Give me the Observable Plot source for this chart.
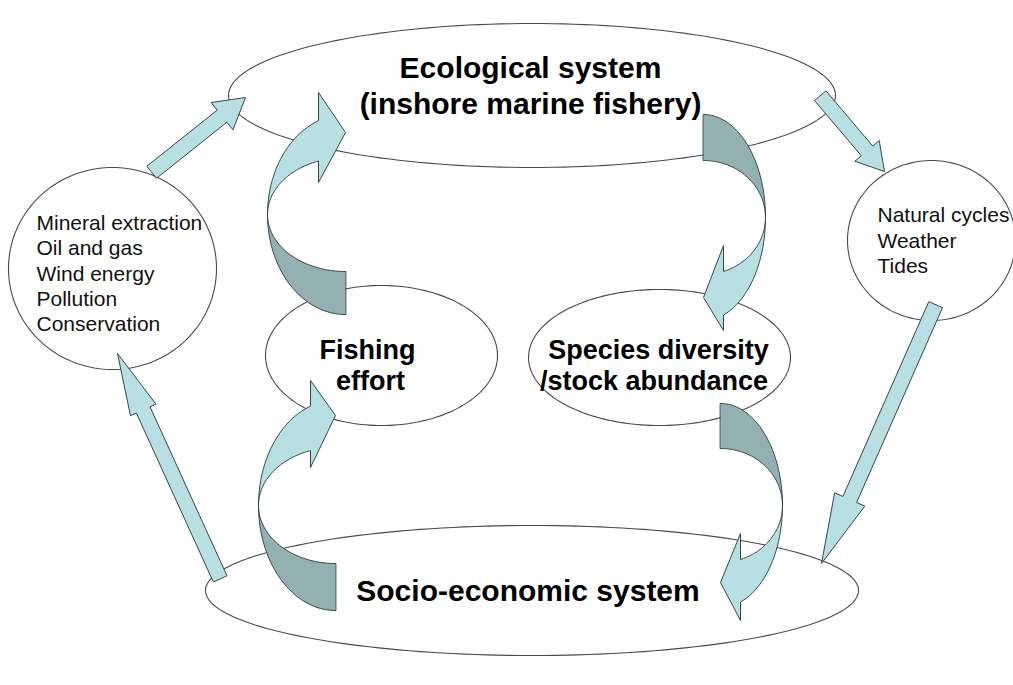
<!DOCTYPE html>
<html>
<head>
<meta charset="utf-8">
<script src="https://cdn.jsdelivr.net/npm/d3@7"></script>
<script src="https://cdn.jsdelivr.net/npm/@observablehq/plot@0.6"></script>
<style>
  html, body { margin: 0; padding: 0; background: #ffffff; }
  #chart svg { display: block; }
</style>
</head>
<body>
<div id="chart"></div>
<script>
// ---- Text content ----
const titleLines = ["Ecological system", "(inshore marine fishery)", "Socio-economic system"];
const fishingLines = ["Fishing", "effort"];
const speciesLines = ["Species diversity", "/stock abundance"];
const pressureLines = ["Mineral extraction", "Oil and gas", "Wind energy", "Pollution", "Conservation"];
const naturalLines = ["Natural cycles", "Weather", "Tides"];

// ---- Node shapes (ellipses) ----
const nodeIds = ["eco", "socio", "fishing", "species", "pressures", "natural"];
const nodeCx = [531.5, 531.5, 381, 659, 112, 931];
const nodeCy = [95, 590, 355, 357, 268, 240];
const nodeRx = [303.5, 326.5, 116, 131, 104, 84];
const nodeRy = [72, 65, 70, 68, 101, 80];

// ---- Straight block arrows ----
const straightIds = ["pressures→eco", "eco→natural", "natural→socio", "socio→pressures"];
const straightTail = [[151.5, 171.5], [820, 95.5], [935, 304.5], [219.5, 578]];
const straightTip = [[245, 97], [884, 171], [821, 563], [117, 353]];
const straightShaft = [15.5, 15, 15, 15];
const straightHeadW = [35, 32, 33, 28];
const straightHeadL = [30, 27, 70, 62];

// ---- Curved block arrows ----
const curvedIds = ["fishing→eco", "eco→species", "socio→fishing", "species→socio"];
const curvedCx = [345, 703, 335, 720];
const curvedCy = [214, 217, 505, 505];
const curvedRx = [78, 62, 77, 62];
const curvedRyOuter = [100, 103, 105, 102];
const curvedRyInner = [57, 57, 58, 57];
const curvedSx = [1, -1, 1, -1];
const curvedSy = [1, -1, 1, -1];
const curvedHeadDx = [-27, -20, -25, -20];
const curvedBarbOuter = [-122, -113, -125, -115];
const curvedBarbInner = [-32, -28, -38, -28];
const curvedTipY = [-82, -80, -90, -77];

const W = 1013, H = 685;
const LIGHT = "#b8dfe2", DARK = "#93b1b3", EDGE = "#34484a";

// ellipse outlines
const ellipsePts = nodeIds.flatMap((id, i) =>
  d3.range(0, 360, 2).map(a => ({
    id,
    x: nodeCx[i] + nodeRx[i] * Math.cos(a * Math.PI / 180),
    y: nodeCy[i] + nodeRy[i] * Math.sin(a * Math.PI / 180)
  }))
);

// straight arrows as polygons
const straightPts = straightIds.flatMap((id, i) => {
  const [tx, ty] = straightTail[i], [px, py] = straightTip[i];
  const L = Math.hypot(px - tx, py - ty);
  const ux = (px - tx) / L, uy = (py - ty) / L;
  const nx = -uy, ny = ux;
  const bx = px - ux * straightHeadL[i], by = py - uy * straightHeadL[i];
  const w = straightShaft[i] / 2, hw = straightHeadW[i] / 2;
  return [
    [tx + nx * w, ty + ny * w],
    [bx + nx * w, by + ny * w],
    [bx + nx * hw, by + ny * hw],
    [px, py],
    [bx - nx * hw, by - ny * hw],
    [bx - nx * w, by - ny * w],
    [tx - nx * w, ty - ny * w]
  ].map(([x, y]) => ({id, x, y}));
});

// curved arrows: dark back band + light front band with head
function arc(t0, t1, rx, ry, n = 48) {
  return d3.range(n + 1).map(k => {
    const t = t0 + (t1 - t0) * k / n;
    return [rx * Math.cos(t), ry * Math.sin(t)];
  });
}
const darkPts = [], lightPts = [];
curvedIds.forEach((id, i) => {
  const rx = curvedRx[i], ro = curvedRyOuter[i], ri = curvedRyInner[i];
  const map = ([u, v]) => ({id, x: curvedCx[i] + curvedSx[i] * u, y: curvedCy[i] + curvedSy[i] * v});
  const dark = [...arc(Math.PI / 2, Math.PI, rx, ro), ...arc(Math.PI, Math.PI / 2, rx, ri)];
  darkPts.push(...dark.map(map));
  const a = Math.acos(curvedHeadDx[i] / rx);
  const hd = curvedHeadDx[i];
  const light = [
    ...arc(-Math.PI, -a, rx, ro),
    [hd, curvedBarbOuter[i]],
    [0, curvedTipY[i]],
    [hd, curvedBarbInner[i]],
    ...arc(-a, -Math.PI, rx, ri)
  ];
  lightPts.push(...light.map(map));
});

// labels
const FONT = "'Liberation Sans', Arial, sans-serif";
const titleData = [
  {text: titleLines[0], x: 530, y: 67.5},
  {text: titleLines[1], x: 530, y: 103.5},
  {text: titleLines[2], x: 527.5, y: 590.5}
];
const midData = [
  {text: fishingLines[0], x: 367, y: 349.5},
  {text: fishingLines[1], x: 370, y: 380.5},
  {text: speciesLines[0], x: 658, y: 349.5},
  {text: speciesLines[1], x: 653.5, y: 380.5}
];
const pressureData = pressureLines.map((text, i) => ({text, x: 36, y: 223 + 25.2 * i}));
const naturalData = naturalLines.map((text, i) => ({text, x: 877, y: 215 + 25.5 * i}));

const chart = Plot.plot({
  width: W,
  height: H,
  margin: 0,
  style: {background: "#ffffff", overflow: "visible"},
  x: {domain: [0, W], range: [0, W], axis: null},
  y: {domain: [0, H], range: [0, H], axis: null},
  marks: [
    Plot.line(ellipsePts, {x: "x", y: "y", z: "id", curve: "linear-closed", stroke: "#4a4a4a", strokeWidth: 1.1, fill: "white"}),
    Plot.line(straightPts, {x: "x", y: "y", z: "id", curve: "linear-closed", fill: LIGHT, stroke: EDGE, strokeWidth: 1}),
    Plot.line(darkPts, {x: "x", y: "y", z: "id", curve: "linear-closed", fill: DARK, stroke: EDGE, strokeWidth: 1}),
    Plot.line(lightPts, {x: "x", y: "y", z: "id", curve: "linear-closed", fill: LIGHT, stroke: EDGE, strokeWidth: 1}),
    Plot.text(titleData, {x: "x", y: "y", text: "text", fontSize: 30, fontWeight: "bold", fontFamily: FONT, fill: "#000"}),
    Plot.text(midData, {x: "x", y: "y", text: "text", fontSize: 27, fontWeight: "bold", fontFamily: FONT, fill: "#000"}),
    Plot.text(pressureData, {x: "x", y: "y", text: "text", fontSize: 21, fontFamily: FONT, textAnchor: "start", fill: "#111"}),
    Plot.text(naturalData, {x: "x", y: "y", text: "text", fontSize: 21, fontFamily: FONT, textAnchor: "start", fill: "#111"})
  ]
});
document.getElementById("chart").appendChild(chart);
</script>
</body>
</html>
